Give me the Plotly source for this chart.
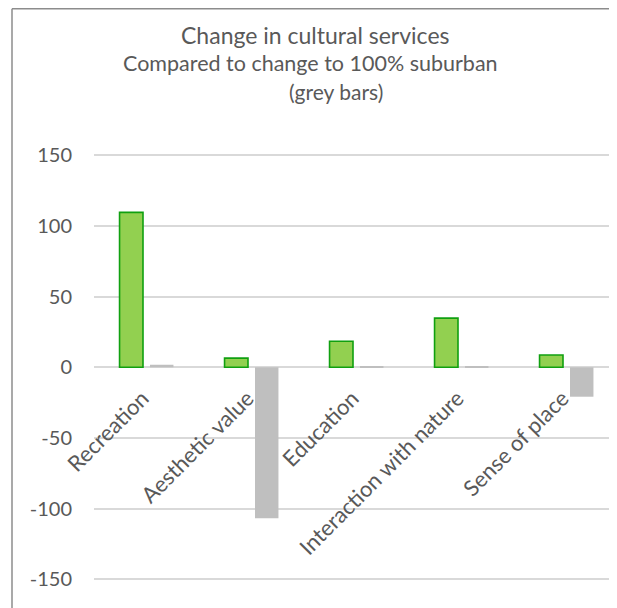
import plotly.graph_objects as go

categories = ["Recreation", "Aesthetic value", "Education", "Interaction with nature", "Sense of place"]
scenario_values = [109.6, 6.5, 18.4, 34.8, 8.7]
suburban_values = [1.8, -106.8, 0.3, 0.7, -20.8]
y_tick_values = [-150, -100, -50, 0, 50, 100, 150]
y_tick_labels = ["-150", "-100", "-50", "0", "50", "100", "150"]
title_lines = ["Change in cultural services", "Compared to change to 100% suburban", "(grey bars)"]

# page has an 8px body margin; figure fills the rest of the 617x608 window
OFF = 8
W, H = 617 - OFF, 608 - OFF
L, R, T, B = 94 - OFF, 0, 120 - OFF, 0
PW, PH = W - L - R, H - T - B

def px_x(px):  # page x -> paper x
    return (px - OFF - L) / PW

def px_y(py):  # page y -> paper y
    return (H - B - (py - OFF)) / PH

FONT = "Lato"
TXT = "#595959"

fig = go.Figure()
fig.add_trace(go.Bar(x=categories, y=scenario_values,
                     marker=dict(color="#92D050", line=dict(color="#10A010", width=1.6)), showlegend=False))
fig.add_trace(go.Bar(x=categories, y=suburban_values,
                     marker=dict(color="#BFBFBF", line=dict(width=0)), showlegend=False))

zero_px = 367.3
px_per_unit = 70.7 / 50
ymax = (zero_px - OFF - T) / px_per_unit
ymin = -(H - B - (zero_px - OFF)) / px_per_unit

fig.update_layout(
    width=W, height=H,
    margin=dict(l=L, r=R, t=T, b=B, pad=0),
    paper_bgcolor="white", plot_bgcolor="white",
    barmode="group", bargap=0.42, bargroupgap=0.23,
    font=dict(family=FONT, color=TXT),
    xaxis=dict(range=[-0.5, -0.5 + PW / 105.0], anchor="free", position=px_y(zero_px),
               tickangle=-45, tickfont=dict(size=22, color=TXT, family=FONT),
               showline=False, showgrid=False, ticks="", zeroline=False,
               ticklabelstandoff=13, ticklabelshift=-4),
    yaxis=dict(range=[ymin, ymax], tickvals=y_tick_values, ticktext=y_tick_labels,
               tickfont=dict(size=20, color=TXT, family=FONT),
               showgrid=True, gridcolor="#D9D9D9", gridwidth=1.5,
               zeroline=True, zerolinecolor="#D9D9D9", zerolinewidth=1.5,
               showline=False, ticks="", ticklabelstandoff=21),
)

sizes = [23, 21.5, 21]
centers = [(315, 35), (310, 62.5), (336, 91)]
for text, size, (cx, cy) in zip(title_lines, sizes, centers):
    fig.add_annotation(text=text, x=px_x(cx), y=px_y(cy), xref="paper", yref="paper",
                       xanchor="center", yanchor="middle", showarrow=False,
                       font=dict(size=size, color=TXT, family=FONT))

# chart border (left and top edges visible)
fig.add_shape(type="line", xref="paper", yref="paper", x0=px_x(12), x1=px_x(12), y0=px_y(8.75), y1=px_y(620),
              line=dict(color="#8C8C8C", width=1.5))
fig.add_shape(type="line", xref="paper", yref="paper", x0=px_x(12), x1=px_x(630), y0=px_y(8.75), y1=px_y(8.75),
              line=dict(color="#8C8C8C", width=1.5))

fig.write_html("out.html")
